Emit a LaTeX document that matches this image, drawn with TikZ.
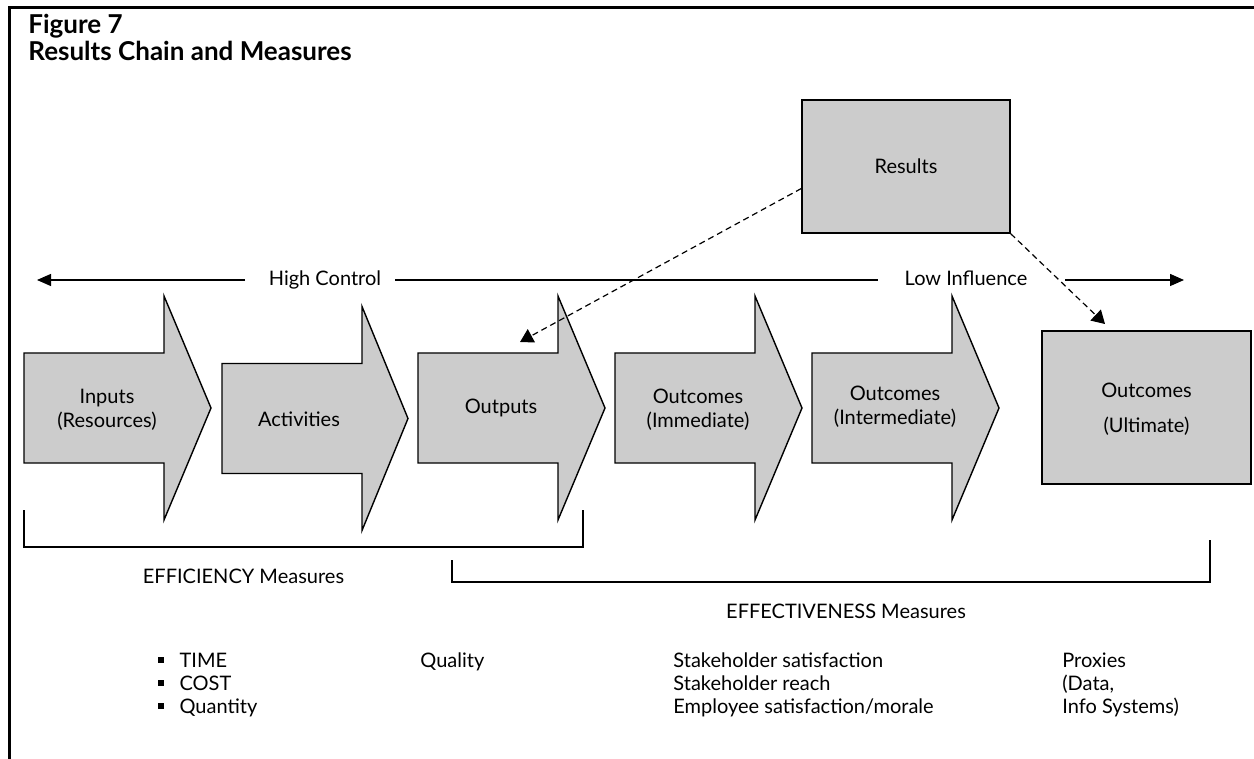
\documentclass[tikz,border=0pt]{standalone}
\usepackage{fontspec}
\setmainfont{Lato}
\usetikzlibrary{arrows.meta,calc}

\definecolor{chaingray}{gray}{0.8}

% one block arrow of the chain: start x, middle y, head base x, tip x
\newcommand{\chainarrow}[4]{%
  \draw[chain] (#1,#2-55) -- (#3,#2-55) -- (#3,#2-112) -- (#4,#2)
    -- (#3,#2+112) -- (#3,#2+55) -- (#1,#2+55) -- cycle;}
\newcommand{\sqbullet}{\rule[0.22em]{2.6pt}{2.6pt}\hspace{8pt}}

\begin{document}
\begin{tikzpicture}[x=0.5pt,y=-0.5pt,
    font=\fontsize{10}{12}\selectfont,
    chain/.style={draw=black,line width=0.7pt,fill=chaingray,line join=miter},
    box/.style={draw=black,line width=0.7pt,fill=chaingray,align=center},
    lbl/.style={align=center,inner sep=0pt},
    conn/.style={dashed,dash pattern=on 3pt off 2pt,line width=0.6pt,-{Triangle[length=6.5pt,width=7.5pt]}},
    controlline/.style={line width=0.7pt},
    bracket/.style={line width=0.6pt},
    list/.style={anchor=base west,align=left,inner sep=0pt,font=\fontsize{10}{11.5}\selectfont}]
  \useasboundingbox (0,0) rectangle (1254,759);

  % frame
  \draw[line width=1.5pt] (9,759) -- (9,8) -- (1254,8);
  \node[anchor=base west,inner sep=0pt,font=\fontsize{13}{14}\bfseries] (fig) at (28,34) {Figure 7};
  \node[anchor=base west,inner sep=0pt,font=\fontsize{13}{14}\bfseries] (title) at (28,61) {Results Chain and Measures};

  % control / influence scale
  \node[anchor=base,inner sep=0pt] (hc) at (325,286) {High Control};
  \node[anchor=base,inner sep=0pt] (li) at (966,286) {Low Influence};
  \coordinate (sl) at (37,280);
  \coordinate (sr) at (1184,280);
  \draw[controlline,-{Triangle[length=7pt,width=6pt]}] (245,280) -- (sl);
  \draw[controlline] (395,280) -- (878,280);
  \draw[controlline,-{Triangle[length=7pt,width=6pt]}] (1065,280) -- (sr);

  % the chain
  \chainarrow{24}{408}{164}{211}
  \chainarrow{222}{418.5}{362}{408}
  \chainarrow{418}{408}{558}{605}
  \chainarrow{615}{408}{755}{802}
  \chainarrow{812}{408}{952}{999}
  \node[lbl] (inp) at (107,410) {Inputs\\(Resources)};
  \node[lbl] (act) at (299,419) {Activities};
  \node[lbl] (outp) at (501,408) {Outputs};
  \node[lbl] (imm) at (698,410) {Outcomes\\(Immediate)};
  \node[lbl] (inter) at (895,407) {Outcomes\\(Intermediate)};
  \node[box,minimum width=104.5pt,minimum height=76.5pt,text depth=-3pt] (ult) at (1146.5,407.5) {Outcomes\\[5.5pt](Ultimate)};
  \node[box,minimum width=104pt,minimum height=66.5pt] (res) at (906,166.5) {Results};

  \coordinate (outtip) at (520,342);
  \coordinate (ulttip) at (1105,324);
  \draw[conn] ([yshift=-11pt]res.west) -- (outtip);
  \draw[conn] (res.south east) -- (ulttip);

  % measures
  \draw[bracket] (24,510) -- (24,547) -- (583,547) -- (583,510);
  \node[anchor=base,inner sep=0pt] (eff) at (243.5,583) {EFFICIENCY Measures};
  \draw[bracket] (452,560) -- (452,582) -- (1210,582) -- (1210,540);
  \node[anchor=base,inner sep=0pt] (effv) at (846,618) {EFFECTIVENESS Measures};

  \node[list] (tcq) at (158,713) {\sqbullet TIME\\\sqbullet COST\\\sqbullet Quantity};
  \node[list] (qual) at (420,667) {Quality};
  \node[list] (stake) at (673,713) {Stakeholder satisfaction\\Stakeholder reach\\Employee satisfaction/morale};
  \node[list] (prox) at (1062,713) {Proxies\\(Data,\\Info Systems)};
\end{tikzpicture}
\end{document}
